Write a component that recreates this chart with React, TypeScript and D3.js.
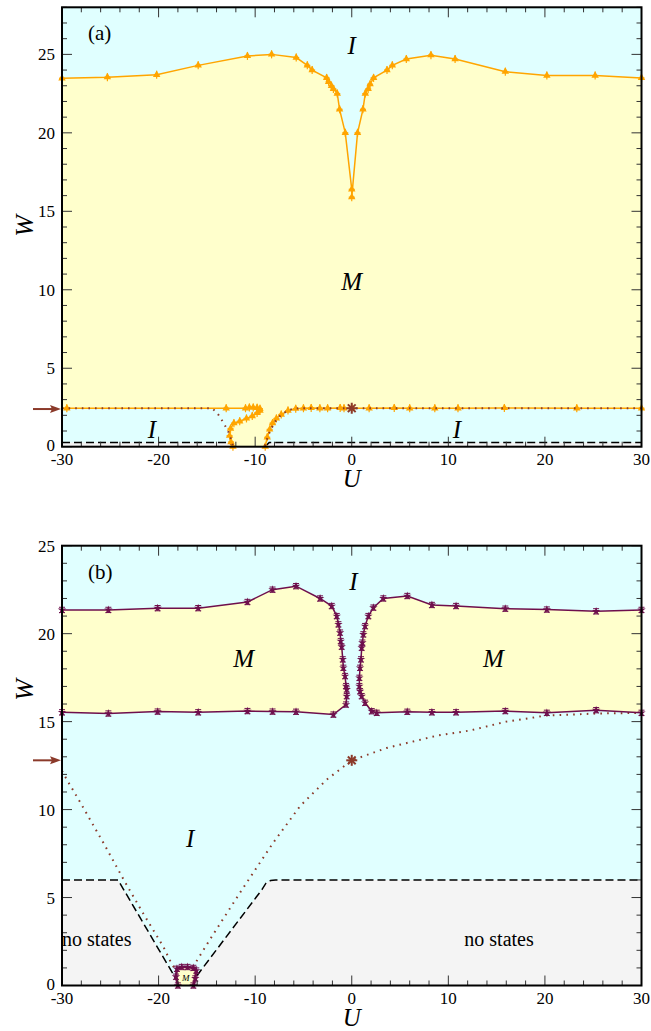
import React from 'react';
import * as d3 from 'd3';

const FONT = 'Liberation Serif, DejaVu Serif, serif';
const CYAN = '#e0ffff';
const YELLOW = '#ffffcc';
const GRAY = '#f4f4f4';
const ORANGE = '#ffa500';
const PURPLE = '#6e0f4c';
const BROWN = '#8b3a2a';

// ---------- Panel (a) data ----------
const aTopU = [-30, -25.3, -20.2, -15.9, -10.8, -8.3, -5.75, -4.6, -4.1, -2.6, -2.4, -2.1, -1.9, -1.5, -1.26, -0.67, 0, 0, 0.6, 1.16, 1.4, 1.7, 1.9, 2.26, 3.65, 4.2, 5.65, 8.2, 10.7, 15.9, 20.2, 25.2, 30];
const aTopW = [23.48, 23.55, 23.7, 24.3, 24.9, 25.0, 24.8, 24.3, 24.0, 23.5, 23.25, 23.0, 22.8, 22.5, 21.5, 20.0, 16.4, 15.9, 20.0, 21.5, 22.5, 22.8, 23.1, 23.5, 24.0, 24.3, 24.7, 24.95, 24.7, 23.9, 23.65, 23.65, 23.5];

const aLeftU = [-30, -29.5, -13, -11.0, -10.6, -10.2, -9.8, -9.5, -9.5, -9.8, -10.3, -10.9, -11.6, -12.2, -12.55, -12.65, -12.5, -12.3];
const aLeftW = [2.45, 2.45, 2.45, 2.45, 2.5, 2.5, 2.48, 2.42, 2.3, 2.15, 1.95, 1.8, 1.62, 1.5, 1.15, 0.7, 0.3, 0.0];

const aRightU = [-8.96, -8.75, -8.5, -8.2, -7.8, -7.3, -6.6, -5.8, -5.0, -4.2, -3.3, -2.5, -1.2, -0.8, 0, 1.8, 4.4, 6, 8.6, 11, 15.8, 23.3, 30];
const aRightW = [0, 0.6, 1.1, 1.5, 1.8, 2.05, 2.3, 2.42, 2.45, 2.47, 2.45, 2.45, 2.47, 2.45, 2.45, 2.45, 2.47, 2.45, 2.45, 2.45, 2.47, 2.45, 2.45];

const aDotLeftU = [-30, -14.5, -14.0, -13.6, -13.2, -12.8, -12.5, -12.3];
const aDotLeftW = [2.45, 2.45, 2.2, 1.85, 1.43, 1.0, 0.5, 0.05];
const aDotRightU = [-9.0, -8.6, -8.0, -7.3, -6.5, -5.5, 0, 30];
const aDotRightW = [0.05, 0.8, 1.55, 2.05, 2.35, 2.45, 2.45, 2.45];

const aDashLeftU = [-30, -12.7, -12.2];
const aDashLeftW = [0.26, 0.26, 0];
const aDashRightU = [-9.0, -8.55, 30];
const aDashRightW = [0, 0.26, 0.26];

const aArrowW = 2.4;
const aStar = [0, 2.45];

// ---------- Panel (b) data ----------
const bLeftUpU = [-30, -25.2, -20.1, -15.9, -10.8, -8.2, -5.77, -3.28, -2.07, -1.55, -1.38, -1.21, -1.14, -1.04, -0.93, -0.87, -0.69, -0.59, -0.52, -0.52, -0.59];
const bLeftUpW = [21.35, 21.35, 21.45, 21.45, 21.8, 22.5, 22.7, 22.0, 21.57, 21.0, 20.53, 20.06, 19.58, 19.26, 18.54, 18.06, 17.59, 17.02, 16.83, 16.45, 15.97];
const bLeftLowU = [-1.9, -5.77, -8.2, -10.8, -15.9, -20.1, -25.2, -30];
const bLeftLowW = [15.4, 15.56, 15.57, 15.6, 15.53, 15.57, 15.46, 15.53];

const bRightUpU = [30, 25.3, 20.2, 15.9, 10.8, 8.3, 5.75, 3.27, 2.24, 1.72, 1.38, 1.2, 1.1, 1.03, 0.96, 0.86, 0.79, 0.79, 0.86, 1.03, 1.38, 2.07];
const bRightUpW = [21.35, 21.27, 21.37, 21.42, 21.57, 21.63, 22.14, 22.0, 21.48, 21.0, 20.43, 19.96, 19.49, 19.2, 18.54, 18.06, 17.49, 17.02, 16.73, 16.45, 16.07, 15.59];
const bRightLowU = [2.59, 5.75, 8.3, 10.8, 15.9, 20.2, 25.3, 30];
const bRightLowW = [15.5, 15.56, 15.53, 15.53, 15.6, 15.5, 15.65, 15.5];

const bBoxU = [-18.0, -18.2, -18.1, -17.6, -17.0, -16.4, -16.1, -16.2, -16.4];
const bBoxW = [0, 0.5, 0.95, 1.05, 1.05, 1.0, 0.85, 0.4, 0];

const bDotU = [-30, -29.5, -28.1, -25.5, -23.6, -21.6, -19.5, -18.6, -17.9, -17.2, -16.5, -14.7, -11.6, -8.2, -5.35, -2.6, 0, 3.6, 8.8, 12.3, 16, 20.2, 25.4, 30];
const bDotW = [12.2, 11.7, 10.4, 7.9, 6.0, 4.1, 2.2, 1.17, 0.7, 0.6, 1.0, 2.6, 5.25, 8.06, 10.2, 11.7, 12.8, 13.5, 14.2, 14.5, 15.0, 15.35, 15.46, 15.5];

const bDashLeftU = [-30, -24.2, -17.8];
const bDashLeftW = [6, 6, 0];
const bDashRightU = [-16.8, -9.3, -8.9, -8.4, -7.9, 30];
const bDashRightW = [0, 5.45, 5.8, 5.97, 6, 6];

const bArrowW = 12.8;
const bStar = [0, 12.8];
const ERR = 0.15;

const xMajor = [-30, -20, -10, 0, 10, 20, 30];
const xMinor = d3.range(-30, 31, 2);

const zip = (u: number[], w: number[]): [number, number][] => u.map((v, i) => [v, w[i]]);

const W = 651, H = 1031;
const L = 62, R = 641.5;

const serif = { fontFamily: FONT };
const serifIt = { fontFamily: FONT, fontStyle: 'italic' as const };

function Frame({ x, y, yMax, label }: any) {
  const top = y(yMax), bot = y(0);
  const yMajor = d3.range(0, yMax + 0.01, 5);
  const yMinor = d3.range(0, yMax + 0.01, 1);
  const out: any[] = [];
  xMinor.forEach((v, i) => {
    const len = v % 10 === 0 ? 10 : 5;
    out.push(<line key={'xb' + i} x1={x(v)} x2={x(v)} y1={bot} y2={bot - len} stroke="#333" strokeWidth={1} />);
    out.push(<line key={'xt' + i} x1={x(v)} x2={x(v)} y1={top} y2={top + len} stroke="#333" strokeWidth={1} />);
  });
  yMinor.forEach((v, i) => {
    const len = v % 5 === 0 ? 10 : 5;
    out.push(<line key={'yl' + i} x1={L} x2={L + len} y1={y(v)} y2={y(v)} stroke="#333" strokeWidth={1} />);
    out.push(<line key={'yr' + i} x1={R} x2={R - len} y1={y(v)} y2={y(v)} stroke="#333" strokeWidth={1} />);
  });
  return (
    <g>
      {out}
      <rect x={L} y={top} width={R - L} height={bot - top} fill="none" stroke="#000" strokeWidth={2} />
      {xMajor.map(v => (
        <text key={'xl' + v} x={x(v)} y={bot + 18.5} textAnchor="middle" style={serif} fontSize={17} fill="#000">{v}</text>
      ))}
      {yMajor.map(v => (
        <text key={'yl' + v} x={55} y={y(v) + (v === 0 ? 4 : 6)} textAnchor="end" style={serif} fontSize={17} fill="#000">{v}</text>
      ))}
      <text x={(L + R) / 2} y={bot + 40} textAnchor="middle" style={serifIt} fontSize={25}>U</text>
      <text x={88} y={top + 33} style={serif} fontSize={21}>{label}</text>
    </g>
  );
}

function Arrow({ yy }: { yy: number }) {
  return (
    <g>
      <line x1={33} x2={52} y1={yy} y2={yy} stroke={BROWN} strokeWidth={2} />
      <path d={`M61,${yy} L50,${yy - 4} L52,${yy} L50,${yy + 4} Z`} fill={BROWN} />
    </g>
  );
}

function Star({ cx, cy }: { cx: number; cy: number }) {
  const r = 5.5;
  const angs = [0, 45, 90, 135];
  return (
    <g>
      {angs.map(a => {
        const dx = r * Math.cos((a * Math.PI) / 180), dy = r * Math.sin((a * Math.PI) / 180);
        return <line key={a} x1={cx - dx} y1={cy - dy} x2={cx + dx} y2={cy + dy} stroke={BROWN} strokeWidth={2} />;
      })}
    </g>
  );
}

function OrangeMarks({ pts, x, y }: any) {
  const tri = d3.symbol().type(d3.symbolTriangle).size(24)() as string;
  return (
    <g>
      {pts.map((p: [number, number], i: number) => (
        <g key={i} transform={`translate(${x(p[0])},${y(p[1])})`}>
          <path d={tri} fill={ORANGE} />
          <line x1={-3} x2={3} y1={0} y2={0} stroke={ORANGE} strokeWidth={1.2} />
          <line x1={0} x2={0} y1={-4} y2={4} stroke={ORANGE} strokeWidth={1.2} />
        </g>
      ))}
    </g>
  );
}

function PurpleMarks({ pts, x, y }: any) {
  const star = d3.symbol().type(d3.symbolStar).size(22)() as string;
  return (
    <g>
      {pts.map((p: [number, number], i: number) => {
        const cy = y(p[1]);
        const e = Math.abs(y(p[1] + ERR) - cy);
        return (
          <g key={i}>
            <line x1={x(p[0])} x2={x(p[0])} y1={cy - e} y2={cy + e} stroke={PURPLE} strokeWidth={1} />
            <line x1={x(p[0]) - 3} x2={x(p[0]) + 3} y1={cy - e} y2={cy - e} stroke={PURPLE} strokeWidth={1} />
            <line x1={x(p[0]) - 3} x2={x(p[0]) + 3} y1={cy + e} y2={cy + e} stroke={PURPLE} strokeWidth={1} />
            <path transform={`translate(${x(p[0])},${cy})`} d={star} fill={PURPLE} />
          </g>
        );
      })}
    </g>
  );
}

function PanelA() {
  const x = d3.scaleLinear().domain([-30, 30]).range([L, R]);
  const y = d3.scaleLinear().domain([0, 28]).range([446.7, 7.3]);
  const line = d3.line<[number, number]>().x(d => x(d[0])).y(d => y(d[1]));
  const top = zip(aTopU, aTopW);
  const left = zip(aLeftU, aLeftW);
  const right = zip(aRightU, aRightW);
  const yellow: [number, number][] = [...top, ...right.slice().reverse(), ...left.slice().reverse()];
  const gray: [number, number][] = [[-30, 0], ...zip(aDashLeftU, aDashLeftW), ...zip(aDashRightU, aDashRightW), [30, 0]];
  return (
    <g>
      <rect x={L} y={y(28)} width={R - L} height={y(0) - y(28)} fill={CYAN} />
      <path d={line(gray) + 'Z'} fill={GRAY} />
      <path d={line(yellow) + 'Z'} fill={YELLOW} />
      <path d={line(zip(aDashLeftU, aDashLeftW)) as string} fill="none" stroke="#000" strokeWidth={1.5} strokeDasharray="8,4" />
      <path d={line(zip(aDashRightU, aDashRightW)) as string} fill="none" stroke="#000" strokeWidth={1.5} strokeDasharray="8,4" />
      <path d={line(top) as string} fill="none" stroke={ORANGE} strokeWidth={1.5} />
      <path d={line(left) as string} fill="none" stroke={ORANGE} strokeWidth={1.5} />
      <path d={line(right) as string} fill="none" stroke={ORANGE} strokeWidth={1.5} />
      <OrangeMarks pts={top} x={x} y={y} />
      <OrangeMarks pts={left.slice(1)} x={x} y={y} />
      <OrangeMarks pts={right} x={x} y={y} />
      <path d={line(zip(aDotLeftU, aDotLeftW)) as string} fill="none" stroke={BROWN} strokeWidth={2} strokeDasharray="1.6,5" />
      <path d={line(zip(aDotRightU, aDotRightW)) as string} fill="none" stroke={BROWN} strokeWidth={2} strokeDasharray="1.6,5" />
      <Star cx={x(aStar[0])} cy={y(aStar[1])} />
      <Arrow yy={y(aArrowW)} />
      <text x={x(0)} y={y(25.6) + 9} textAnchor="middle" style={serifIt} fontSize={25}>I</text>
      <text x={x(0)} y={y(10.53) + 9} textAnchor="middle" style={serifIt} fontSize={25}>M</text>
      <text x={x(-20.7)} y={y(1.13) + 9} textAnchor="middle" style={serifIt} fontSize={25}>I</text>
      <text x={x(10.9)} y={y(1.13) + 9} textAnchor="middle" style={serifIt} fontSize={25}>I</text>
      <text transform={`translate(33,${226}) rotate(-90)`} textAnchor="middle" style={serifIt} fontSize={26}>W</text>
      <Frame x={x} y={y} yMax={28} label="(a)" />
    </g>
  );
}

function PanelB() {
  const x = d3.scaleLinear().domain([-30, 30]).range([L, R]);
  const y = d3.scaleLinear().domain([0, 25]).range([985.5, 545.7]);
  const line = d3.line<[number, number]>().x(d => x(d[0])).y(d => y(d[1]));
  const lu = zip(bLeftUpU, bLeftUpW), ll = zip(bLeftLowU, bLeftLowW);
  const ru = zip(bRightUpU, bRightUpW), rl = zip(bRightLowU, bRightLowW);
  const box = zip(bBoxU, bBoxW);
  const gray: [number, number][] = [[-30, 0], ...zip(bDashLeftU, bDashLeftW), ...zip(bDashRightU, bDashRightW), [30, 0]];
  return (
    <g>
      <rect x={L} y={y(25)} width={R - L} height={y(0) - y(25)} fill={CYAN} />
      <path d={line(gray) + 'Z'} fill={GRAY} />
      <path d={line([...lu, ...ll]) + 'Z'} fill={YELLOW} />
      <path d={line([...ru, ...rl]) + 'Z'} fill={YELLOW} />
      <path d={line(zip(bDashLeftU, bDashLeftW)) as string} fill="none" stroke="#000" strokeWidth={1.5} strokeDasharray="8,4" />
      <path d={line(zip(bDashRightU, bDashRightW)) as string} fill="none" stroke="#000" strokeWidth={1.5} strokeDasharray="8,4" />
      <path d={line(zip(bDotU, bDotW)) as string} fill="none" stroke={BROWN} strokeWidth={2} strokeDasharray="1.6,5.2" />
      <path d={line(box) + 'Z'} fill={YELLOW} />
      <path d={line([...lu, ...ll]) as string} fill="none" stroke={PURPLE} strokeWidth={1.5} />
      <path d={line([...ru, ...rl]) as string} fill="none" stroke={PURPLE} strokeWidth={1.5} />
      <path d={line(box) as string} fill="none" stroke={PURPLE} strokeWidth={2.5} />
      <PurpleMarks pts={[...lu, ...ll]} x={x} y={y} />
      <PurpleMarks pts={[...ru, ...rl]} x={x} y={y} />
      <PurpleMarks pts={box} x={x} y={y} />
      <Star cx={x(bStar[0])} cy={y(bStar[1])} />
      <Arrow yy={y(bArrowW)} />
      <text x={x(0.17)} y={y(23.0) + 9} textAnchor="middle" style={serifIt} fontSize={25}>I</text>
      <text x={x(-11.2)} y={y(18.63) + 9} textAnchor="middle" style={serifIt} fontSize={25}>M</text>
      <text x={x(14.66)} y={y(18.63) + 9} textAnchor="middle" style={serifIt} fontSize={25}>M</text>
      <text x={x(-16.74)} y={y(8.38) + 9} textAnchor="middle" style={serifIt} fontSize={25}>I</text>
      <text x={x(-17.2)} y={y(0.45) + 3} textAnchor="middle" style={serifIt} fontSize={9}>M</text>
      <text x={x(-26.4)} y={y(2.6) + 6} textAnchor="middle" style={serif} fontSize={20}>no states</text>
      <text x={x(15.25)} y={y(2.6) + 6} textAnchor="middle" style={serif} fontSize={20}>no states</text>
      <text transform={`translate(33,${690}) rotate(-90)`} textAnchor="middle" style={serifIt} fontSize={26}>W</text>
      <Frame x={x} y={y} yMax={25} label="(b)" />
    </g>
  );
}

export default function App() {
  return (
    <svg width={W} height={H} style={{ position: 'absolute', left: 0, top: 0, background: '#fff' }}>
      <rect width={W} height={H} fill="#fff" />
      <PanelA />
      <PanelB />
    </svg>
  );
}
